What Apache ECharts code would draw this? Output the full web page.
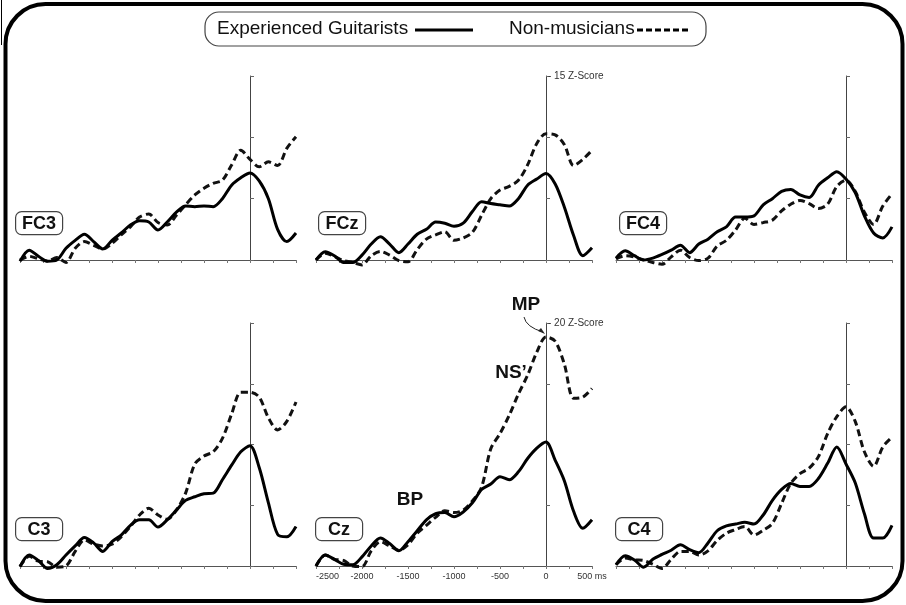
<!DOCTYPE html>
<html>
<head>
<meta charset="utf-8">
<script src="https://cdn.jsdelivr.net/npm/echarts@6/dist/echarts.min.js"></script>
<style>
  html, body { margin: 0; padding: 0; background: #fff; }
  #chart { width: 906px; height: 605px; }
</style>
</head>
<body>
<div id="chart"></div>
<script>
// time axis (ms relative to movement onset), one value per 100 ms
var times = [-2500, -2400, -2300, -2200, -2100, -2000, -1900, -1800, -1700, -1600,
  -1500, -1400, -1300, -1200, -1100, -1000, -900, -800, -700, -600,
  -500, -400, -300, -200, -100, 0, 100, 200, 300, 400, 500];

// Z-scores, experienced guitarists (solid) and non-musicians (dashed)
var fc3Guitar = [-0.1, 0.8, 0.3, -0.1, 0, 0.95, 1.6, 2.1, 1.5, 0.9, 1.6, 2.2, 2.85, 3.2, 3.1, 2.45, 3.1, 3.9, 4.4, 4.35, 4.4, 4.35, 5.0, 6.1, 6.7, 7.1, 6.45, 5.0, 2.5, 1.5, 2.2];
var fc3Non    = [0, 0.3, 0.1, -0.1, 0.2, -0.2, 0.95, 1.5, 1.2, 0.9, 1.35, 2.05, 2.7, 3.5, 3.75, 3.05, 2.85, 3.65, 4.5, 5.3, 5.85, 6.25, 6.5, 7.75, 8.95, 8.2, 7.6, 8.0, 7.7, 9.1, 10.05];
var fczGuitar = [0, 0.68, 0.35, -0.2, -0.2, 0.4, 1.3, 1.9, 1.3, 0.6, 1.3, 2.1, 2.5, 3.1, 3.0, 2.75, 3.0, 3.95, 4.75, 4.6, 4.5, 4.4, 5.0, 6.1, 6.6, 7.05, 6.2, 4.3, 2.0, 0.35, 1.0];
var fczNon    = [0, 0.55, 0.3, -0.05, -0.2, -0.4, 0.35, 0.7, 0.4, -0.05, -0.15, 0.85, 1.7, 2.05, 2.3, 1.6, 1.8, 2.25, 3.65, 5.0, 5.7, 6.0, 6.5, 7.75, 9.5, 10.3, 10.2, 9.4, 7.7, 8.2, 8.95];
var fc4Guitar = [0.15, 0.75, 0.35, 0, 0.15, 0.45, 0.8, 1.2, 0.6, 1.3, 1.7, 2.3, 2.7, 3.5, 3.5, 3.6, 4.5, 5.0, 5.6, 5.75, 5.3, 5.1, 6.1, 6.7, 7.2, 6.6, 5.5, 3.6, 2.2, 1.8, 2.7];
var fc4Non    = [0.1, 0.35, 0.25, 0, -0.2, -0.35, 0.25, 0.8, 0.2, -0.05, 0.15, 1.15, 1.6, 2.45, 3.4, 2.9, 3.05, 3.25, 4.0, 4.55, 4.85, 4.6, 4.2, 4.55, 6.0, 6.5, 5.6, 3.9, 2.9, 4.4, 5.4];
var c3Guitar  = [-0.05, 0.9, 0.45, -0.2, 0.1, 0.9, 1.65, 2.35, 1.9, 1.2, 2.0, 2.55, 3.35, 3.8, 3.8, 3.2, 3.8, 4.6, 5.4, 5.7, 5.95, 6.0, 7.1, 8.3, 9.4, 9.9, 8.1, 5.2, 2.6, 2.4, 3.25];
var c3Non     = [-0.05, 0.8, 0.4, 0.35, -0.1, 0, 1.2, 2.15, 1.8, 1.65, 1.8, 2.4, 3.25, 4.2, 4.75, 4.2, 3.85, 4.6, 6.0, 8.4, 9.05, 9.4, 10.5, 12.5, 14.3, 14.3, 13.9, 12.2, 11.2, 11.9, 13.5];
var czGuitar  = [0, 0.9, 0.55, 0.15, 0.1, 0.75, 1.65, 2.3, 1.85, 1.25, 2.0, 2.9, 3.8, 4.3, 4.4, 4.05, 4.45, 5.2, 6.3, 6.75, 7.35, 7.1, 7.75, 8.85, 9.7, 10.2, 8.7, 7.0, 4.5, 3.1, 3.8];
var czNon     = [0, 0.9, 0.55, 0.45, 0, -0.05, 1.25, 2.0, 1.65, 1.3, 1.75, 2.7, 3.35, 4.0, 4.55, 4.4, 4.6, 5.35, 6.5, 9.65, 10.9, 12.4, 14.15, 15.7, 17.6, 18.85, 18.5, 16.6, 13.8, 13.9, 14.6];
var c4Guitar  = [0.1, 0.85, 0.5, -0.1, 0.55, 0.95, 1.3, 1.75, 1.35, 1.1, 1.9, 2.9, 3.3, 3.45, 3.6, 3.45, 4.2, 5.4, 6.3, 6.8, 6.55, 6.55, 7.2, 8.45, 9.8, 8.4, 6.85, 4.3, 2.3, 2.3, 3.35];
var c4Non     = [0.1, 0.65, 0.5, 0.45, 0.15, -0.2, 0.55, 1.2, 1.2, 0.9, 1.25, 2.1, 2.7, 3.0, 3.25, 2.55, 2.95, 3.5, 5.15, 6.8, 7.6, 8.05, 9.0, 10.9, 12.3, 13.1, 11.9, 9.4, 8.2, 9.8, 10.6];

var panelNames = ['FC3', 'FCz', 'FC4', 'C3', 'Cz', 'C4'];
var guitarSeries = [fc3Guitar, fczGuitar, fc4Guitar, c3Guitar, czGuitar, c4Guitar];
var nonSeries = [fc3Non, fczNon, fc4Non, c3Non, czNon, c4Non];
var rowMax = [15, 20];
var legendNames = ['Experienced Guitarists', 'Non-musicians'];

var chart = echarts.init(document.getElementById('chart'));

var colLeft = [20, 316, 616];
var gridWidth = 276;
var rowTop = [76, 323];
var rowHeight = [184, 243];
var labelBox = [[15, 211], [318, 211], [619, 211], [15, 517], [315, 517], [615, 517]];
// y axis sits at t = 0, i.e. 2500/3000 of the way across each grid
var yAxisShift = -Math.round(gridWidth * 2500 / 3000);

function pairs(vals) {
  return times.map(function(t, i) { return [t, vals[i]]; });
}

var grids = [], xAxes = [], yAxes = [], series = [], graphics = [];

for (var i = 0; i < 6; i++) {
  var row = Math.floor(i / 3), col = i % 3;
  var middle = col === 1;
  var bottomMid = (i === 4);
  grids.push({
    left: colLeft[col], top: rowTop[row], width: gridWidth, height: rowHeight[row],
    outerBoundsMode: 'none'
  });
  xAxes.push({
    gridIndex: i, type: 'value', min: -2500, max: 500, interval: 250,
    axisLine: { onZero: false, lineStyle: { color: '#555', width: 1 } },
    axisTick: { show: true, length: 3, lineStyle: { color: '#777' } },
    splitLine: { show: false },
    axisLabel: {
      show: bottomMid, color: '#333', fontSize: 9, margin: 6,
      fontFamily: 'Liberation Sans, Arial, sans-serif',
      alignMinLabel: 'left',
      showMinLabel: true, showMaxLabel: true,
      formatter: function(v) {
        if (v % 500 !== 0) return '';
        return v === 500 ? '500 ms' : String(v);
      }
    }
  });
  (function(maxV) {
    yAxes.push({
      gridIndex: i, type: 'value', min: 0, max: maxV, interval: 5,
      position: 'left', offset: yAxisShift,
      axisLine: { show: true, onZero: false, lineStyle: { color: '#444', width: 1 } },
      axisTick: { show: true, inside: true, length: 4, lineStyle: { color: '#666' } },
      splitLine: { show: false },
      axisLabel: {
        show: middle, inside: true, margin: 2, color: '#333', fontSize: 10,
        fontFamily: 'Liberation Sans, Arial, sans-serif',
        showMaxLabel: true,
        formatter: function(v) { return v === maxV ? '- ' + maxV + ' Z-Score' : ''; }
      }
    });
  })(rowMax[row]);
  series.push({
    name: legendNames[1], type: 'line', xAxisIndex: i, yAxisIndex: i,
    data: pairs(nonSeries[i]), symbol: 'none', smooth: 0.3, clip: false,
    lineStyle: { color: '#111', width: 3, type: [7, 4] }, z: 2
  });
  series.push({
    name: legendNames[0], type: 'line', xAxisIndex: i, yAxisIndex: i,
    data: pairs(guitarSeries[i]), symbol: 'none', smooth: 0.3, clip: false,
    lineStyle: { color: '#000', width: 3 }, z: 3
  });
  graphics.push({
    type: 'group', left: labelBox[i][0], top: labelBox[i][1],
    children: [
      { type: 'rect', shape: { x: 0, y: 0, width: 47, height: 23, r: 6 },
        style: { fill: '#fff', stroke: '#444', lineWidth: 1.2 } },
      { type: 'text', x: 23.5, y: 12, style: { text: panelNames[i], fill: '#111',
        font: 'bold 18px Liberation Sans, Arial, sans-serif', align: 'center', verticalAlign: 'middle' } }
    ]
  });
}

// outer frame
graphics.push({ type: 'rect', z: 10, shape: { x: 5.5, y: 4, width: 897, height: 597, r: 40 },
  style: { fill: 'none', stroke: '#000', lineWidth: 4 } });
graphics.push({ type: 'line', shape: { x1: 1.5, y1: 0, x2: 1.5, y2: 45 },
  style: { stroke: '#000', lineWidth: 1 } });

// legend box
var legendFont = '19px Liberation Sans, Arial, sans-serif';
graphics.push({ type: 'rect', shape: { x: 205, y: 12, width: 501, height: 34, r: 14 },
  style: { fill: '#fff', stroke: '#444', lineWidth: 1.2 } });
graphics.push({ type: 'text', x: 217, y: 29, style: { text: legendNames[0], fill: '#111',
  font: legendFont, verticalAlign: 'middle' } });
graphics.push({ type: 'line', shape: { x1: 415, y1: 30, x2: 473, y2: 30 },
  style: { stroke: '#000', lineWidth: 3 } });
graphics.push({ type: 'text', x: 509, y: 29, style: { text: legendNames[1], fill: '#111',
  font: legendFont, verticalAlign: 'middle' } });
graphics.push({ type: 'line', shape: { x1: 637, y1: 30, x2: 688, y2: 30 },
  style: { stroke: '#000', lineWidth: 3, lineDash: [6, 3] } });

// annotations on Cz
var annoFont = 'bold 19px Liberation Sans, Arial, sans-serif';
graphics.push({ type: 'text', x: 526, y: 305, style: { text: 'MP', fill: '#111', font: annoFont, align: 'center', verticalAlign: 'middle' } });
graphics.push({ type: 'text', x: 511, y: 373, style: { text: 'NS\u2019', fill: '#111', font: annoFont, align: 'center', verticalAlign: 'middle' } });
graphics.push({ type: 'text', x: 410, y: 500, style: { text: 'BP', fill: '#111', font: annoFont, align: 'center', verticalAlign: 'middle' } });
graphics.push({ type: 'bezierCurve', shape: { x1: 524, y1: 317, x2: 543, y2: 332, cpx1: 526, cpy1: 327 },
  style: { stroke: '#222', lineWidth: 1, fill: 'none' } });
graphics.push({ type: 'polygon', shape: { points: [[545, 334], [538, 331], [541, 328]] },
  style: { fill: '#222' } });

chart.setOption({
  animation: false,
  grid: grids,
  xAxis: xAxes,
  yAxis: yAxes,
  series: series,
  graphic: graphics
});

window.addEventListener('resize', function() { chart.resize(); });
</script>
</body>
</html>
